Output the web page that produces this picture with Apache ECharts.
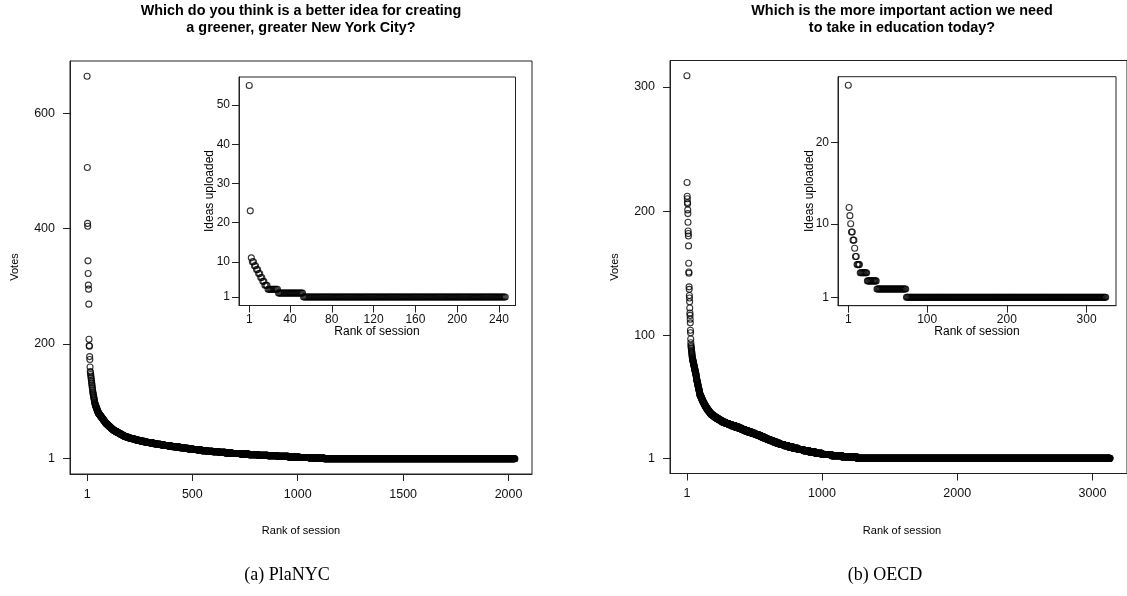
<!DOCTYPE html>
<html>
<head>
<meta charset="utf-8">
<script src="https://cdn.jsdelivr.net/npm/echarts@6/dist/echarts.min.js"></script>
<style>
  html, body { margin: 0; padding: 0; background: #fff; }
  #chart { width: 1127px; height: 596px; }
</style>
</head>
<body>
<div id="chart"></div>
<script>
// PlaNYC: votes per session, sorted by rank (top ranks one by one, then runs of [votes, count])
var nycTopVotes = [664, 506, 409, 404, 344, 322, 302, 295, 269, 208, 197, 196, 178, 173, 160, 152];
var nycVoteRuns = [
  [150,1],[147,1],[144,1],[141,1],[138,1],[135,1],[132,1],[129,1],[126,1],[123,1],[120,1],
  [117,1],[115,1],[113,1],[111,1],[109,1],[107,1],[105,1],[103,1],[101,1],[99,1],[97,1],
  [95,2],[93,2],[91,2],[89,2],[87,2],[85,2],[83,2],[81,2],
  [80,2],[79,2],[78,2],[77,2],[76,2],[75,2],[74,2],[73,2],[72,2],[71,2],[70,2],[69,2],
  [68,2],[67,2],[66,2],[65,2],[64,2],[63,2],
  [62,3],[61,3],[60,3],[59,3],[58,3],[57,3],[56,3],[55,3],[54,3],[53,3],[52,3],
  [51,4],[50,4],[49,5],[48,5],[47,5],[46,5],[45,5],[44,5],[43,5],[42,5],[41,5],[40,5],
  [39,8],[38,9],[37,9],[36,10],[35,10],[34,10],[33,11],[32,11],
  [31,13],[30,14],[29,15],[28,15],[27,16],[26,17],[25,17],[24,18],
  [23,18],[22,19],[21,19],[20,20],[19,20],[18,21],[17,21],[16,22],
  [15,25],[14,27],[13,29],[12,31],[11,33],
  [10,38],[9,40],[8,44],[7,46],[6,48],[5,50],[4,52],[3,50],[2,67],
  [1,906]
];
// PlaNYC: ideas uploaded per session
var nycTopIdeas = [55, 23, 11, 10, 10, 9, 9, 8, 8, 7, 7, 6, 6, 5, 5, 4, 4, 4];
var nycIdeaRuns = [[3,10],[2,24],[1,194]];

// OECD: votes per session
var oecdTopVotes = [309, 223, 212, 210, 207, 206, 201, 198, 191, 184, 182, 180, 172, 158, 151,
  150, 139, 137, 132, 130, 127, 122, 118, 116, 113, 110, 104, 102, 97, 94];
var oecdVoteRuns = [
  [92,1],[91,1],[90,1],[89,1],[88,1],[87,1],[86,1],[85,1],[84,1],[83,1],[82,1],[81,2],[80,2],
  [79,2],[78,2],[77,2],[76,2],[75,2],[74,2],[73,2],[72,2],[71,2],[70,2],[69,2],[68,2],[67,1],[66,1],
  [65,2],[64,2],[63,2],[62,2],[61,2],[60,2],[59,2],[58,2],[57,2],[56,2],[55,2],[54,2],[53,1],
  [52,4],[51,4],[50,4],[49,4],[48,4],[47,4],[46,5],[45,5],[44,5],[43,5],
  [42,6],[41,6],[40,7],[39,7],[38,7],[37,8],
  [36,12],[35,13],[34,14],[33,14],[32,15],[31,16],
  [30,22],[29,23],[28,24],[27,25],[26,26],
  [25,22],[24,23],[23,24],[22,25],[21,26],[20,26],
  [19,20],[18,21],[17,22],[16,23],[15,23],[14,24],[13,25],
  [12,30],[11,32],[10,34],[9,37],
  [8,40],[7,43],[6,46],[5,48],
  [4,70],[3,80],[2,110],
  [1,1871]
];
// OECD: ideas uploaded per session
var oecdTopIdeas = [27, 12, 11, 10, 9, 9, 8, 8, 7, 6, 6, 5, 5, 5, 5];
var oecdIdeaRuns = [[4,9],[3,12],[2,37],[1,251]];

// tick labels
var nycRankTicks = [1, 500, 1000, 1500, 2000];
var nycVoteTicks = [1, 200, 400, 600];
var nycInsetRankTicks = [1, 40, 80, 120, 160, 200, 240];
var nycInsetIdeaTicks = [1, 10, 20, 30, 40, 50];
var oecdRankTicks = [1, 1000, 2000, 3000];
var oecdVoteTicks = [1, 100, 200, 300];
var oecdInsetRankTicks = [1, 100, 200, 300];
var oecdInsetIdeaTicks = [1, 10, 20];

function toPoints(top, runs) {
  var vals = top.slice();
  runs.forEach(function (r) {
    for (var i = 0; i < r[1]; i++) vals.push(r[0]);
  });
  return vals.map(function (v, i) { return [i + 1, v]; });
}

// R style axis range: data range padded by 4% on both sides
function rRange(lo, hi) {
  var pad = (hi - lo) * 0.04;
  return [lo - pad, hi + pad];
}

var nycVotes = toPoints(nycTopVotes, nycVoteRuns);
var nycIdeas = toPoints(nycTopIdeas, nycIdeaRuns);
var oecdVotes = toPoints(oecdTopVotes, oecdVoteRuns);
var oecdIdeas = toPoints(oecdTopIdeas, oecdIdeaRuns);

var font = 'Liberation Sans';

function axis(grid, r, ticks, size, margin, z) {
  return {
    type: 'value', gridIndex: grid, min: r[0], max: r[1], z: z,
    axisLine: { show: true, onZero: false, lineStyle: { color: '#222', width: 1 } },
    splitLine: { show: false },
    axisTick: { show: true, length: 7, customValues: ticks, lineStyle: { color: '#222', width: 1 } },
    axisLabel: {
      customValues: ticks, color: '#111', fontFamily: font, fontSize: size, margin: margin,
      formatter: function (v) { return String(v); }
    }
  };
}
function xAx(grid, pts, ticks, size, margin, z) {
  return axis(grid, rRange(1, pts.length), ticks, size, margin, z);
}
function yAx(grid, pts, ticks, size, margin, z) {
  var lo = Infinity, hi = -Infinity;
  pts.forEach(function (p) { lo = Math.min(lo, p[1]); hi = Math.max(hi, p[1]); });
  return axis(grid, rRange(lo, hi), ticks, size, margin, z);
}
function ser(idx, pts) {
  return {
    type: 'scatter', xAxisIndex: idx, yAxisIndex: idx, data: pts,
    symbol: 'circle', symbolSize: 6,
    large: false, progressive: 0,
    itemStyle: { color: 'rgba(0,0,0,0)', borderColor: '#000', borderWidth: 1.1 },
    emphasis: { disabled: true },
    silent: true, z: 5 + idx
  };
}
function txt(x, y, s, f, rot) {
  return {
    type: 'text', x: x, y: y, rotation: rot || 0, z: 100,
    style: { text: s, font: f, fill: '#000', align: 'center', verticalAlign: 'middle' }
  };
}

var chart = echarts.init(document.getElementById('chart'));
var box = { show: true, borderColor: '#222', borderWidth: 1 };

chart.setOption({
  animation: false,
  grid: [
    Object.assign({ left: 70, top: 61, width: 462, height: 413, z: 0 }, box),
    Object.assign({ left: 239, top: 77, width: 276.5, height: 228.5, z: 1, backgroundColor: '#fff' }, box),
    Object.assign({ left: 670, top: 60.5, width: 464, height: 413, z: 0 }, box),
    Object.assign({ left: 838, top: 76.7, width: 278, height: 229, z: 1, backgroundColor: '#fff' }, box)
  ],
  xAxis: [
    xAx(0, nycVotes, nycRankTicks, 12.5, 14, 2),
    xAx(1, nycIdeas, nycInsetRankTicks, 12, 8, 3),
    xAx(2, oecdVotes, oecdRankTicks, 12.5, 14, 2),
    xAx(3, oecdIdeas, oecdInsetRankTicks, 12, 8, 3)
  ],
  yAxis: [
    yAx(0, nycVotes, nycVoteTicks, 12.5, 15, 2),
    yAx(1, nycIdeas, nycInsetIdeaTicks, 12, 9, 3),
    yAx(2, oecdVotes, oecdVoteTicks, 12.5, 15, 2),
    yAx(3, oecdIdeas, oecdInsetIdeaTicks, 12, 9, 3)
  ],
  series: [
    ser(0, nycVotes),
    ser(1, nycIdeas),
    ser(2, oecdVotes),
    ser(3, oecdIdeas)
  ],
  graphic: [
    txt(301, 11, 'Which do you think is a better idea for creating', 'bold 14.4px ' + font),
    txt(301, 28, 'a greener, greater New York City?', 'bold 14.4px ' + font),
    txt(902, 11, 'Which is the more important action we need', 'bold 14.4px ' + font),
    txt(902, 28, 'to take in education today?', 'bold 14.4px ' + font),
    txt(15, 267, 'Votes', '11px ' + font, Math.PI / 2),
    txt(615, 267, 'Votes', '11px ' + font, Math.PI / 2),
    txt(301, 531, 'Rank of session', '11px ' + font),
    txt(902, 531, 'Rank of session', '11px ' + font),
    txt(210, 191, 'Ideas uploaded', '12px ' + font, Math.PI / 2),
    txt(810, 191, 'Ideas uploaded', '12px ' + font, Math.PI / 2),
    txt(377, 332, 'Rank of session', '12px ' + font),
    txt(977, 332, 'Rank of session', '12px ' + font),
    txt(287, 575, '(a) PlaNYC', '18px "Liberation Serif"'),
    txt(885, 575, '(b) OECD', '18px "Liberation Serif"')
  ]
});
</script>
</body>
</html>
